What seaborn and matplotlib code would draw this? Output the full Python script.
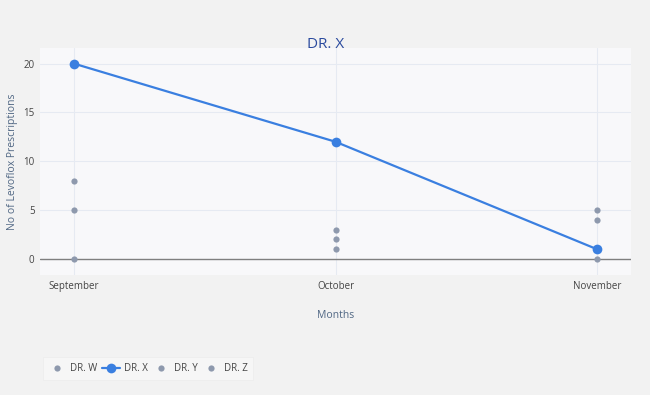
import matplotlib
matplotlib.use("Agg")
import matplotlib.pyplot as plt
import seaborn as sns
import pandas as pd

months = ["September", "October", "November"]
dr_w = [8, 3, 5]
dr_x = [20, 12, 1]
dr_y = [5, 2, 4]
dr_z = [0, 1, 0]

sns.set_style("white")
plt.rcParams["font.family"] = ["Open Sans", "DejaVu Sans"]

grey = "#8e99ad"
blue = "#3a7fe0"
text_col = "#506784"

df = pd.DataFrame({
    "month": months * 4,
    "value": dr_w + dr_x + dr_y + dr_z,
    "doctor": ["DR. W"] * 3 + ["DR. X"] * 3 + ["DR. Y"] * 3 + ["DR. Z"] * 3,
})

fig = plt.figure(figsize=(6.5, 3.95), dpi=100, facecolor="#f2f2f2")
ax = fig.add_axes([40 / 650, 1 - 275 / 395, 591 / 650, 227 / 395])
ax.set_facecolor("#f8f8fa")

# draw W, X, Y, Z in legend order
for name in ["DR. W", "DR. X", "DR. Y", "DR. Z"]:
    sub = df[df["doctor"] == name]
    if name == "DR. X":
        sns.lineplot(x="month", y="value", data=sub, ax=ax, color=blue, lw=1.6,
                     marker="o", markersize=7, markeredgewidth=0, label=name, zorder=4)
    else:
        sns.scatterplot(x="month", y="value", data=sub, ax=ax, color=grey, s=20,
                        linewidth=0, label=name, zorder=3)

ax.set_xlim(-0.13, 2.13)
ax.set_ylim(-1.64, 21.6)
ax.set_yticks([0, 5, 10, 15, 20])
ax.grid(True, color="#e6eaf2", lw=0.8)
ax.set_axisbelow(True)
ax.axhline(0, color="#7f7f7f", lw=1.0, zorder=2)
for s in ax.spines.values():
    s.set_visible(False)
ax.tick_params(length=0, labelsize=7, colors="#444444", pad=4)

ax.set_xlabel("Months", color=text_col, fontsize=7.5, labelpad=13)
ax.set_ylabel("No of Levoflox Prescriptions", color=text_col, fontsize=7.5, labelpad=4)
fig.text(326 / 650, 1 - 45 / 395, "DR. X", color="#2a4a9e", fontsize=11,
         ha="center", va="center")

leg = ax.legend(loc="lower left", bbox_to_anchor=(38 / 650, 10 / 395),
                bbox_transform=fig.transFigure, ncol=4, frameon=True,
                fontsize=7, handlelength=1.8, columnspacing=0.5, handletextpad=0.4,
                borderpad=0.6, scatteryoffsets=[0.5], fancybox=False)
leg.get_frame().set_facecolor("#f8f8f8")
leg.get_frame().set_edgecolor("#ececec")
leg.get_frame().set_linewidth(0.6)
for t in leg.get_texts():
    t.set_color("#444444")

fig.savefig("out.png", dpi=100, facecolor=fig.get_facecolor())
